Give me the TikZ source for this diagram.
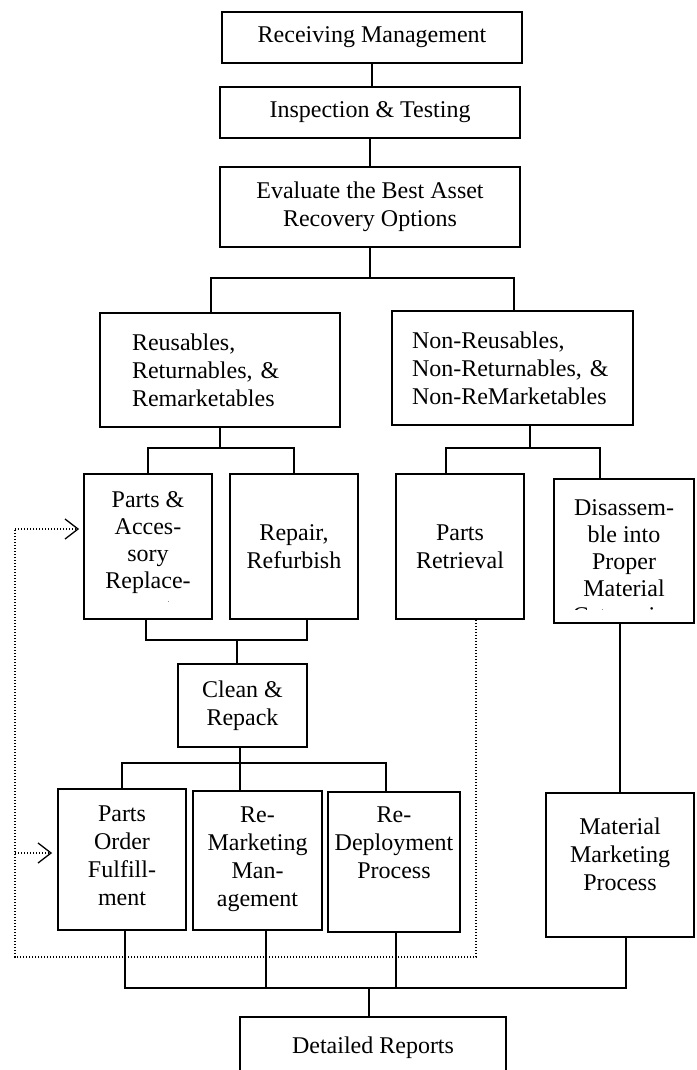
\documentclass[tikz,border=0pt]{standalone}
\usepackage{fontspec}
\setmainfont{Liberation Serif}
\usetikzlibrary{positioning,arrows.meta}

\tikzset{
  box/.style={draw, line width=1.8pt, inner sep=0pt, align=center, font=\fontsize{24}{28}\selectfont},
  txt/.style={inner sep=0pt, align=center, font=\fontsize{24}{28}\selectfont},
  link/.style={line width=1.8pt},
  dotline/.style={line width=1.3pt, dash pattern=on 1.3pt off 1.7pt},
  tip/.style={-{Straight Barb[length=13pt,width=20pt]}}
}

\begin{document}
\begin{tikzpicture}[x=1pt, y=-1pt]
    \useasboundingbox (0,0) rectangle (696,1070);
    \clip (0,0) rectangle (696,1070);

    % top chain
    \node[box, minimum width=300pt, minimum height=51pt] (recv) at (372,37.5) {Receiving Management};
    \node[box, minimum width=300pt, minimum height=51pt] (insp) at (370,112.5) {Inspection \& Testing};
    \node[box, minimum width=300pt, minimum height=80pt] (eval) at (370,207) {Evaluate the Best Asset\\Recovery Options};

    % the two groups
    \node[box, minimum width=240pt, minimum height=114pt, text width=176pt, align=left] (reuse) at (220,370) {Reusables,\\Returnables, \&\\Remarketables};
    \node[box, minimum width=241pt, minimum height=114pt, text width=201pt, align=left] (nonre) at (512.5,368) {Non-Reusables,\\Non-Returnables, \&\\Non-ReMarketables};

    % third row
    \node[box, minimum width=128pt, minimum height=145pt] (pacc) at (148,546.5) {};
    \node[box, minimum width=128pt, minimum height=145pt] (repair) at (294,546.5) {Repair,\\Refurbish};
    \node[box, minimum width=128pt, minimum height=145pt] (pret) at (460,546.5) {Parts\\Retrieval};
    \node[box, minimum width=140pt, minimum height=144pt] (disa) at (624,551) {};
    \begin{scope}
        \clip (pacc.north west) rectangle (212,601);
        \node[txt, font=\fontsize{24}{27}\selectfont, below=18pt of pacc.north] (pacc-t) {Parts \&\\Acces-\\sory\\Replace-\\ment};
    \end{scope}
    \begin{scope}
        \clip (disa.north west) rectangle (694,609);
        \node[txt, font=\fontsize{24}{27}\selectfont, below=21pt of disa.north] (disa-t) {Disassem-\\ble into\\Proper\\Material\\Categories};
    \end{scope}

    \node[box, minimum width=129pt, minimum height=83pt] (clean) at (242.5,705.5) {Clean \&\\Repack};

    % bottom row
    \node[box, minimum width=128pt, minimum height=141pt] (porder) at (122,859.5) {};
    \node[txt, below=17pt of porder.north] (porder-t) {Parts\\Order\\Fulfill-\\ment};
    \node[box, minimum width=129pt, minimum height=139pt] (remkt) at (257.5,860.5) {};
    \node[txt, below=16pt of remkt.north] (remkt-t) {Re-\\Marketing\\Man-\\agement};
    \node[box, minimum width=132pt, minimum height=140pt] (redep) at (394,862) {};
    \node[txt, below=15pt of redep.north] (redep-t) {Re-\\Deployment\\Process};
    \node[box, minimum width=148pt, minimum height=144pt] (matmkt) at (620,865) {};
    \node[txt, below=26pt of matmkt.north] (matmkt-t) {Material\\Marketing\\Process};

    \node[box, minimum width=266pt, minimum height=62pt] (report) at (373,1048) {Detailed Reports};

    % bus bars
    \coordinate (b1l) at (211,278);
    \coordinate (b1r) at (514,278);
    \coordinate (b2l) at (148,448);
    \coordinate (b2r) at (294,448);
    \coordinate (b3l) at (446,448);
    \coordinate (b3m) at (530,448);
    \coordinate (b3r) at (600,448);
    \coordinate (b4l) at (146,640);
    \coordinate (b4m) at (237,640);
    \coordinate (b4r) at (307,640);
    \coordinate (b5l) at (122,763);
    \coordinate (b5m) at (240,763);
    \coordinate (b5r) at (386,763);
    \coordinate (b6l) at (125,988);
    \coordinate (b6a) at (266,988);
    \coordinate (b6b) at (396,988);
    \coordinate (b6m) at (369,988);
    \coordinate (b6r) at (626,988);

    \draw[link] (recv.south) -- (recv.south |- insp.north);
    \draw[link] (insp.south) -- (insp.south |- eval.north);
    \draw[link] (eval.south) -- (eval.south |- b1l);
    \draw[link] (b1l |- reuse.north) -- (b1l) -- (b1r) -- (b1r |- nonre.north);

    \draw[link] (reuse.south) -- (reuse.south |- b2l);
    \draw[link] (b2l |- pacc.north) -- (b2l) -- (b2r) -- (b2r |- repair.north);
    \draw[link] (b3m |- nonre.south) -- (b3m);
    \draw[link] (b3l |- pret.north) -- (b3l) -- (b3r) -- (b3r |- disa.north);

    \draw[link] (b4l |- pacc.south) -- (b4l) -- (b4r) -- (b4r |- repair.south);
    \draw[link] (b4m) -- (b4m |- clean.north);

    \draw[link] (b5m |- clean.south) -- (b5m);
    \draw[link] (b5l |- porder.north) -- (b5l) -- (b5r) -- (b5r |- redep.north);
    \draw[link] (b5m) -- (b5m |- remkt.north);

    \draw[link] (matmkt.north) -- (matmkt.north |- disa.south);

    \draw[link] (b6l |- porder.south) -- (b6l) -- (b6r) -- (b6r |- matmkt.south);
    \draw[link] (b6a |- remkt.south) -- (b6a);
    \draw[link] (b6b |- redep.south) -- (b6b);
    \draw[link] (b6m) -- (b6m |- report.north);

    % dotted feedback
    \coordinate (d1) at (476,957);
    \coordinate (d2) at (15,957);
    \coordinate (d3) at (15,529);
    \coordinate (d4) at (15,853);
    \draw[dotline] (d1 |- pret.south) -- (d1) -- (d2) -- (d3);
    \draw[dotline, tip, shorten >=4pt] (d3) -- (d3 -| pacc.west);
    \draw[dotline, tip, shorten >=5pt] (d4) -- (d4 -| porder.west);
\end{tikzpicture}
\end{document}
